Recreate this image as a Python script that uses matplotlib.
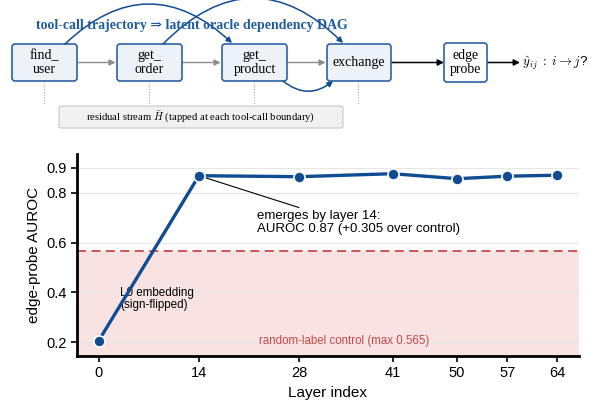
import matplotlib
matplotlib.use("Agg")
import matplotlib.pyplot as plt
from matplotlib.patches import FancyBboxPatch, FancyArrowPatch

# ---- data ----
layers = [0, 14, 28, 41, 50, 57, 64]
auroc = [0.205, 0.868, 0.864, 0.876, 0.856, 0.866, 0.870]
control_max = 0.565
yticks = [0.2, 0.4, 0.6, 0.8, 0.9]
tool_calls = ["find_\nuser", "get_\norder", "get_\nproduct", "exchange"]
probe_label = "edge\nprobe"
title_text = "tool-call trajectory \u21d2 latent oracle dependency DAG"
stream_text = r"residual stream $\bar{H}$ (tapped at each tool-call boundary)"
output_text = r"$\hat{y}_{ij}\;:\;i \rightarrow j$?"

BLUE = "#0f4c92"
BOX_EDGE = "#2f62a3"
BOX_FILL = "#edf2f8"
RED = "#c9474a"

plt.rcParams["font.family"] = ["Liberation Sans", "DejaVu Sans"]
plt.rcParams["mathtext.fontset"] = "cm"

fig = plt.figure(figsize=(5.97, 4.01), dpi=100)

# ---- top diagram in pixel coordinates ----
dax = fig.add_axes([0, 0, 1, 1])
dax.set_xlim(0, 597)
dax.set_ylim(401, 0)
dax.axis("off")

serif = ["Liberation Serif", "DejaVu Serif"]
boxes = [(12, 44, 65, 37), (117, 44, 65, 37), (222, 44, 65, 37), (327, 44, 64, 37)]
for (x, y, w, h), lab in zip(boxes, tool_calls):
    dax.add_patch(FancyBboxPatch((x, y), w, h, boxstyle="round,pad=0,rounding_size=3",
                                 fc=BOX_FILL, ec=BOX_EDGE, lw=1.2, zorder=3))
    dax.text(x + w / 2, y + h / 2, lab, ha="center", va="center", family=serif,
             fontsize=10, zorder=4, linespacing=1.05)
    # dotted tap lines
    dax.plot([x + w / 2 - 1, x + w / 2 - 1], [y + h + 2, 105], color="#aaaaaa", lw=0.8,
             ls=(0, (1, 1.5)), zorder=1)

px, py, pw, ph = 444, 43, 43, 39
dax.add_patch(FancyBboxPatch((px, py), pw, ph, boxstyle="round,pad=0,rounding_size=3",
                             fc="white", ec=BOX_EDGE, lw=1.2, zorder=3))
dax.text(px + pw / 2, py + ph / 2, probe_label, ha="center", va="center", family=serif,
         fontsize=10, zorder=4, linespacing=1.05)

# gray sequence arrows
for i in range(3):
    x0 = boxes[i][0] + boxes[i][2]
    x1 = boxes[i + 1][0]
    dax.add_patch(FancyArrowPatch((x0, 62.5), (x1, 62.5), arrowstyle="-|>", mutation_scale=9,
                                  color="#8c8c8c", lw=1.0, shrinkA=0, shrinkB=1, zorder=2))
# black arrows
dax.add_patch(FancyArrowPatch((391, 62.5), (444, 62.5), arrowstyle="-|>", mutation_scale=9,
                              color="black", lw=1.1, shrinkA=0, shrinkB=0, zorder=2))
dax.add_patch(FancyArrowPatch((487, 62.5), (520, 62.5), arrowstyle="-|>", mutation_scale=9,
                              color="black", lw=1.1, shrinkA=0, shrinkB=0, zorder=2))
dax.text(522, 63, output_text, ha="left", va="center", fontsize=9.5)

# curved dependency arrows
dax.add_patch(FancyArrowPatch((65, 44), (232, 43), connectionstyle="arc3,rad=-0.47",
                              arrowstyle="-|>", mutation_scale=8, color=BLUE, lw=1.1,
                              shrinkA=0, shrinkB=0, zorder=5))
dax.add_patch(FancyArrowPatch((163, 44), (343, 43), connectionstyle="arc3,rad=-0.5",
                              arrowstyle="-|>", mutation_scale=8, color=BLUE, lw=1.1,
                              shrinkA=0, shrinkB=0, zorder=5))
dax.add_patch(FancyArrowPatch((283, 81), (333, 81), connectionstyle="arc3,rad=0.4",
                              arrowstyle="-|>", mutation_scale=8, color=BLUE, lw=1.1,
                              shrinkA=0, shrinkB=0, zorder=5))

dax.text(192, 25, title_text, ha="center", va="center", family=serif, fontsize=10,
         fontweight="bold", color="#1f5ba0", zorder=6)

dax.add_patch(FancyBboxPatch((59, 106), 284, 22, boxstyle="round,pad=0,rounding_size=2",
                             fc="#f1f1f1", ec="#c8c8c8", lw=0.8, zorder=2))
dax.text(201, 117, stream_text, ha="center", va="center", family=serif, fontsize=7.7, zorder=3)

# ---- line chart ----
ax = fig.add_axes([77 / 597, 1 - 356 / 401, (579 - 77) / 597, (356 - 154) / 401])
ax.set_xlim(-3, 67)
ax.set_ylim(0.145, 0.955)

ax.axhspan(0.145, control_max, color="#f9e3e2", zorder=0, lw=0)
ax.axhline(control_max, color=RED, ls=(0, (5, 3)), lw=1.3, zorder=1)
for yv in yticks:
    ax.axhline(yv, color="#e6e6e6", lw=0.8, zorder=0.5)

ax.plot(layers, auroc, color=BLUE, lw=2.4, marker="o", markersize=8,
        markerfacecolor=BLUE, markeredgecolor="white", markeredgewidth=1.2, zorder=4,
        clip_on=False)

ax.set_xticks(layers)
ax.set_yticks(yticks)
ax.set_yticklabels([f"{v:.1f}" for v in yticks])
ax.tick_params(axis="both", labelsize=10.5, width=1.2, length=4, direction="out")
ax.set_xlabel("Layer index", fontsize=11)
ax.set_ylabel("edge-probe AUROC", fontsize=11)
for s in ["top", "right"]:
    ax.spines[s].set_visible(False)
for s in ["left", "bottom"]:
    ax.spines[s].set_linewidth(2.0)

ax.annotate("emerges by layer 14:\nAUROC 0.87 (+0.305 over control)",
            xy=(layers[1], auroc[1]), xytext=(22.1, 0.729), ha="left", va="top",
            fontsize=9.5, linespacing=1.1,
            arrowprops=dict(arrowstyle="-", color="black", lw=0.8,
                            relpos=(0.25, 1.0), shrinkA=0, shrinkB=3))
ax.text(3.0, 0.372, "L0 embedding\n(sign-flipped)", ha="left", va="center", fontsize=8.4,
        linespacing=1.0)
ax.text(34.2, 0.205, f"random-label control (max {control_max})", ha="center", va="center",
        fontsize=8.3, color=RED)

fig.savefig("out.png", dpi=100)
